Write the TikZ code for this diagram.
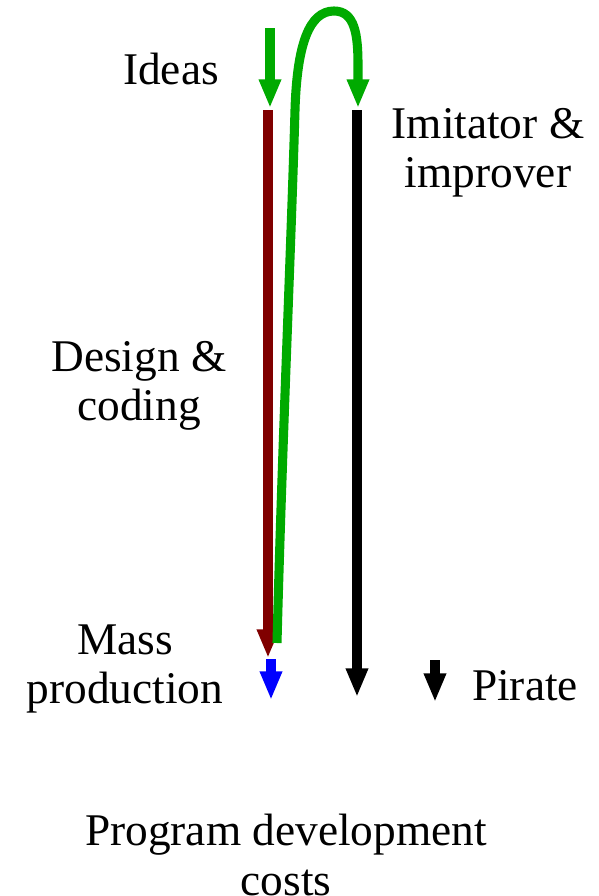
\documentclass[tikz,border=0pt]{standalone}
\usepackage{fontspec}
\setmainfont{Liberation Serif}
\usetikzlibrary{arrows.meta}
\definecolor{dgreen}{RGB}{0,170,0}
\definecolor{dred}{RGB}{128,0,0}
\begin{document}
\begin{tikzpicture}[x=0.75pt,y=-0.75pt,
  lbl/.style={align=center,inner sep=0pt,font=\fontsize{34}{37}\selectfont},
  arr/.style={line width=6.8pt,-{Triangle[length=21.5pt,width=15.5pt]}}]
\useasboundingbox (0,0) rectangle (599,896);
% coordinates
\coordinate (ideasTop) at (270,28);
\coordinate (ideasTip) at (270,108);
\coordinate (redTop) at (268,110);
\coordinate (redTip) at (268,658);
\coordinate (blackTop) at (357,110);
\coordinate (blackTip) at (357,697);
\coordinate (blueTop) at (271,659);
\coordinate (blueTip) at (271,700);
\coordinate (pirTop) at (435,660);
\coordinate (pirTip) at (435,702);
\coordinate (gStart) at (277,643);
\coordinate (gMid) at (295,110);
\coordinate (gPeak) at (334,11);
\coordinate (gTip) at (358,108);
% labels
\node[lbl] (ideas) at (171,69) {Ideas};
\node[lbl] (imit) at (488,153) {Imitator \&\\improver};
\node[lbl] (design) at (139,386) {Design \&\\coding};
\node[lbl] (mass) at (125,669) {Mass\\production};
\node[lbl] (pirate) at (525,686) {Pirate};
\node[lbl] (costs) at (286,855) {Program development\\costs};
% arrows
\draw[arr,dred] (redTop) -- (redTip);
\draw[arr,black] (blackTop) -- (blackTip);
\draw[arr,blue] (blueTop) -- (blueTip);
\draw[arr,black] (pirTop) -- (pirTip);
\draw[arr,dgreen] (ideasTop) -- (ideasTip);
\draw[arr,dgreen] (gStart) .. controls (282,450) and (291,250) .. (gMid)
  .. controls (297,45) and (309,11) .. (gPeak)
  .. controls (355,11) and (358,35) .. (358,65) -- (gTip);
\end{tikzpicture}
\end{document}
